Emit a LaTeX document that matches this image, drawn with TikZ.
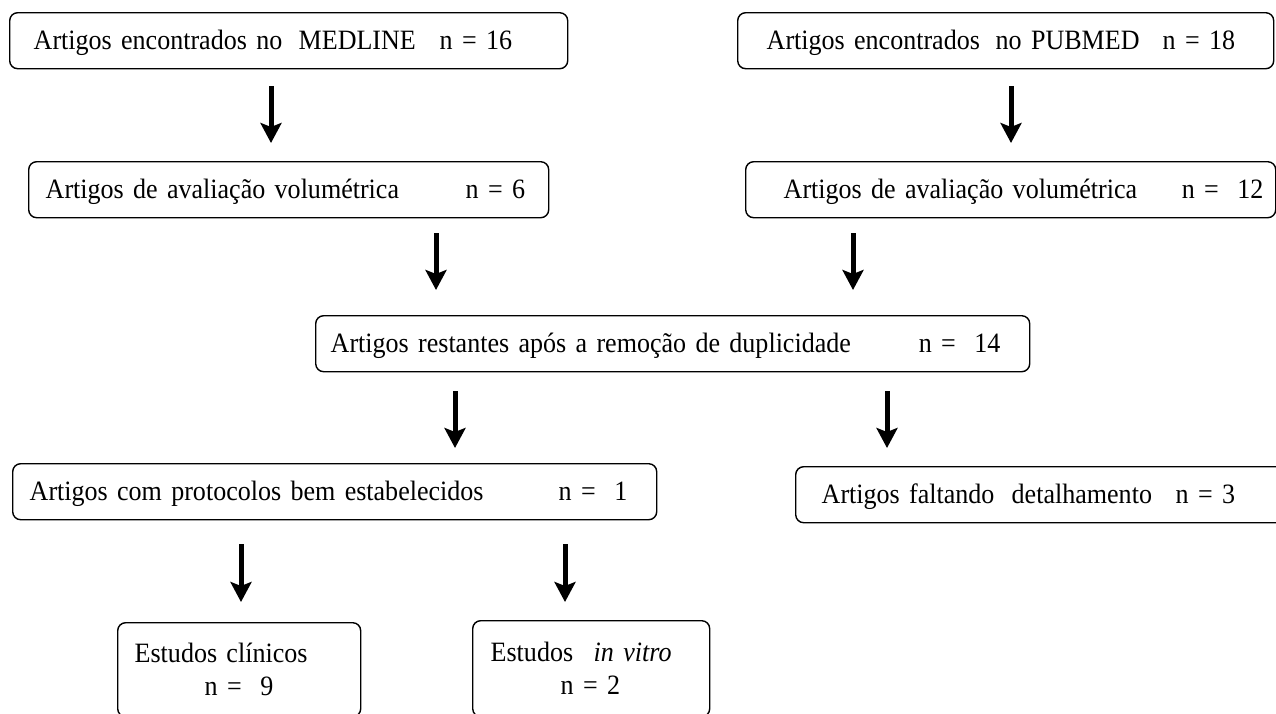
\documentclass[tikz,border=0pt]{standalone}
\usepackage{fontspec}
\setmainfont[FakeStretch=0.93]{Liberation Serif}
\usetikzlibrary{arrows.meta,positioning}

\begin{document}
\begin{tikzpicture}[x=1pt,y=-1pt,
  font=\fontsize{28}{33}\selectfont,
  box/.style={draw,line width=1.4pt,rounded corners=8pt,anchor=north west,align=left,
    inner sep=0pt,minimum height=56pt,text height=18pt,text depth=0pt},
  tallbox/.style={draw,line width=1.4pt,rounded corners=8pt,anchor=north west,align=left,
    inner sep=0pt},
  arr/.style={line width=5pt,-{Stealth[length=20pt,width=21pt,inset=4pt]}}]
  \useasboundingbox (0,0) rectangle (1276,713);
  % sources
  \node[box,text width=558pt] (med) at (9,12)
       {\hspace*{24pt}\makebox[265pt][l]{Artigos encontrados no}\makebox[141pt][l]{MEDLINE}n = 16};
  \node[box,text width=536pt] (pub) at (737,12)
       {\hspace*{29pt}\makebox[229pt][l]{Artigos encontrados}\makebox[167pt][l]{no PUBMED}n = 18};
  % volumetric
  \node[box,text width=520pt] (vol1) at (28,161)
       {\hspace*{17pt}\makebox[420pt][l]{Artigos de avaliação volumétrica}n = 6};
  \node[box,text width=530pt] (vol2) at (745,161)
       {\hspace*{38pt}\makebox[398pt][l]{Artigos de avaliação volumétrica}n = \ 12};
  \node[box,text width=714pt] (rest) at (315,315)
       {\hspace*{15pt}\makebox[588pt][l]{Artigos restantes após a remoção de duplicidade}n = \ 14};
  % selection
  \node[box,text width=644pt] (prot) at (12,463)
       {\hspace*{17pt}\makebox[529pt][l]{Artigos com protocolos bem estabelecidos}n = \ 1};
  \node[box,text width=505pt] (falt) at (795,466)
       {\hspace*{26pt}\makebox[190pt][l]{Artigos faltando}\makebox[164pt][l]{detalhamento}n = 3};
  \node[tallbox,text width=243pt,minimum height=94pt] (clin) at (117,622)
       {\hspace*{17pt}Estudos clínicos\\ \hspace*{87pt}n = \ 9};
  \node[tallbox,text width=237pt,minimum height=96pt] (vitro) at (472,620)
       {\hspace*{18pt}\makebox[103pt][l]{Estudos}\textit{in vitro}\\ \hspace*{88pt}n = 2};
  % arrows
  \draw[arr,shorten <=17pt,shorten >=18pt] (med.south -| 271,0) -- (vol1.north -| 271,0);
  \draw[arr,shorten <=17pt,shorten >=18pt] (pub.south -| 1011,0) -- (vol2.north -| 1011,0);
  \draw[arr,shorten <=15pt,shorten >=25pt] (vol1.south -| 436,0) -- (rest.north -| 436,0);
  \draw[arr,shorten <=15pt,shorten >=25pt] (vol2.south -| 853,0) -- (rest.north -| 853,0);
  \draw[arr,shorten <=19pt,shorten >=15pt] (rest.south -| 455,0) -- (prot.north -| 455,0);
  \draw[arr,shorten <=19pt,shorten >=18pt] (rest.south -| 887,0) -- (falt.north -| 887,0);
  \draw[arr,shorten <=24pt,shorten >=20pt] (prot.south -| 241,0) -- (clin.north -| 241,0);
  \draw[arr,shorten <=24pt,shorten >=18pt] (prot.south -| 565,0) -- (vitro.north -| 565,0);
\end{tikzpicture}
\end{document}
